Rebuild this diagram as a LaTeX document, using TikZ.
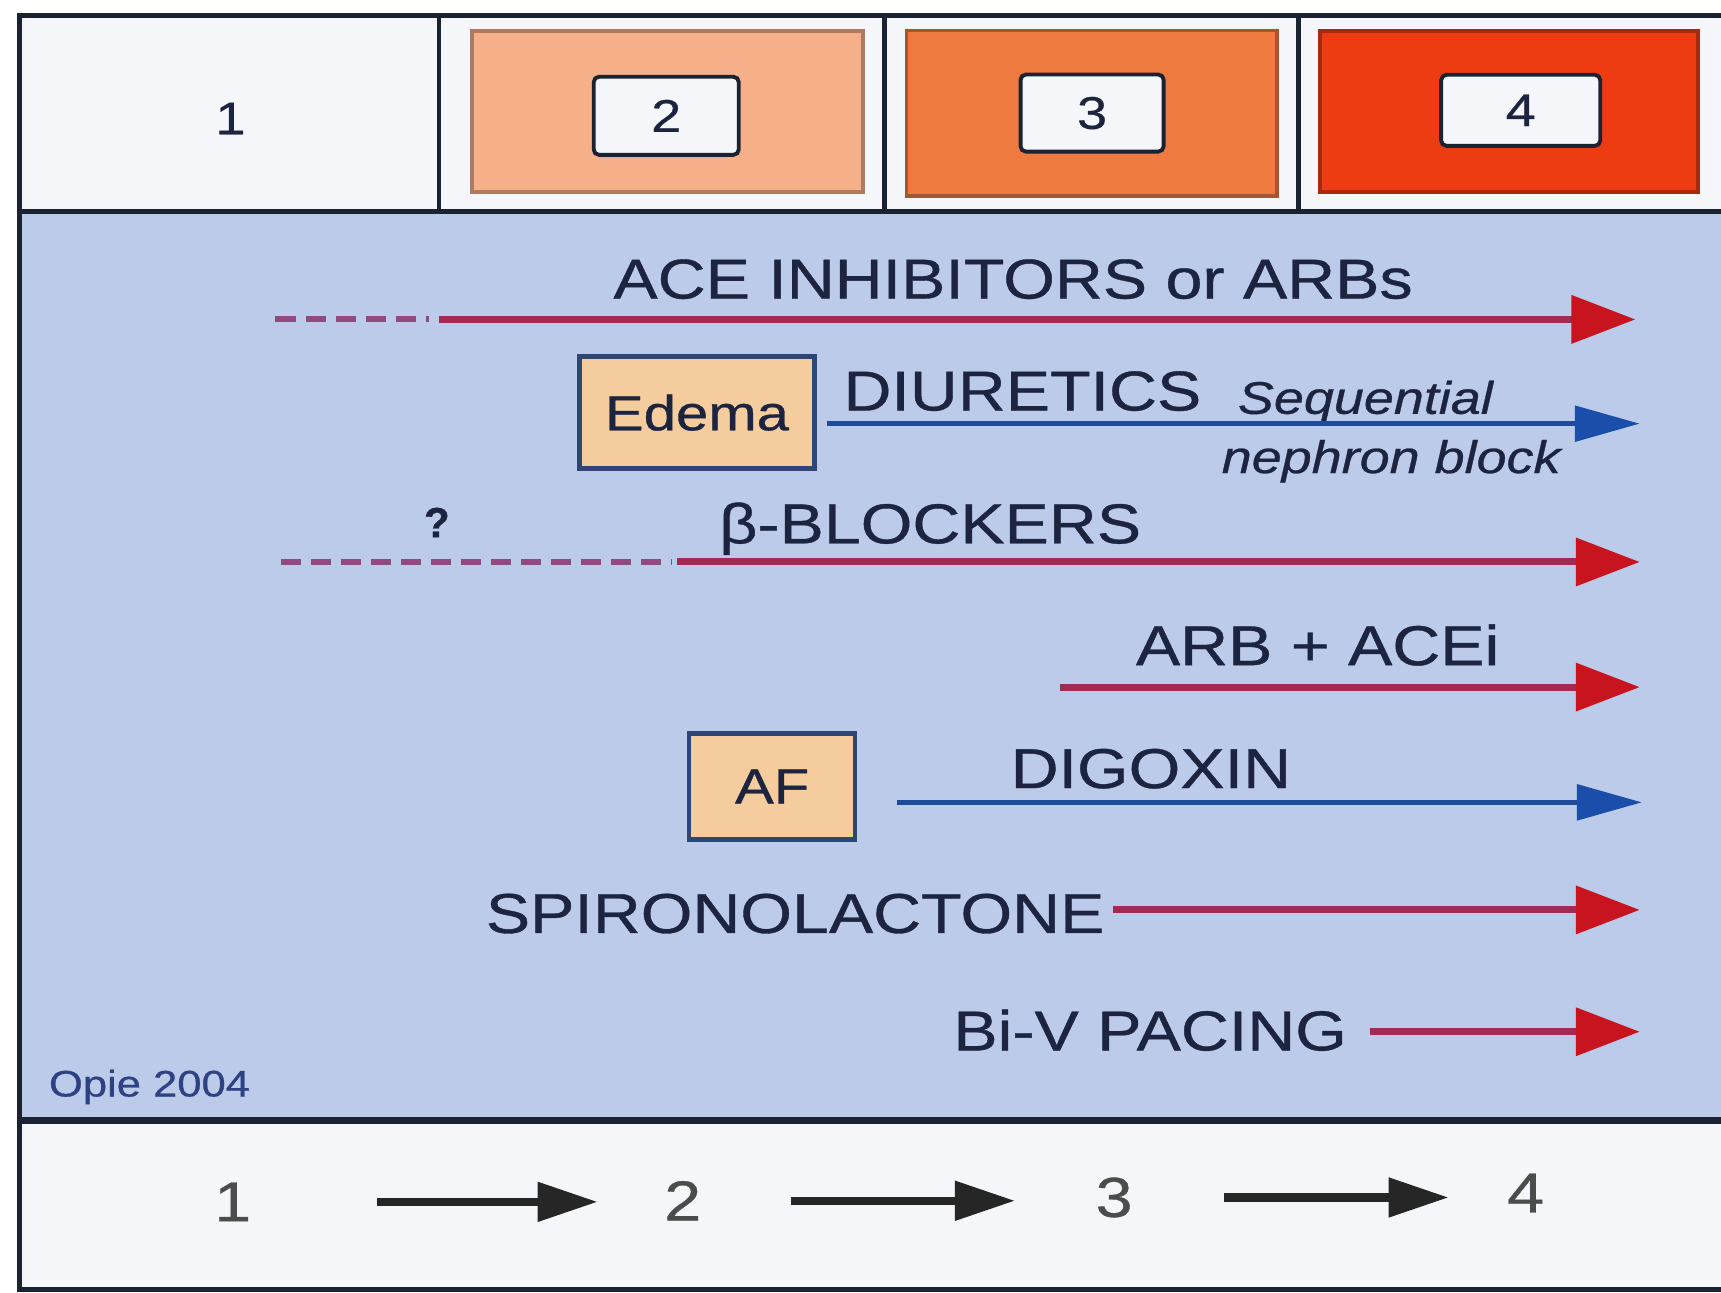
\documentclass[tikz,border=0pt]{standalone}
\usepackage{fontspec}
\setmainfont{Liberation Sans}[FakeBold=0.6]
\usetikzlibrary{arrows.meta, positioning}
\definecolor{panel}{HTML}{BCCBEA}
\definecolor{paper}{HTML}{F4F6FA}
\definecolor{frame}{HTML}{1B2333}
\definecolor{ink}{HTML}{1C2440}
\definecolor{opie}{HTML}{2E4283}
\definecolor{stagetwo}{HTML}{F5B08A}
\definecolor{stagethree}{HTML}{EE7A40}
\definecolor{stagefour}{HTML}{EE3C12}
\definecolor{peach}{HTML}{F4CC9E}
\definecolor{boxline}{HTML}{2E4676}
\definecolor{redline}{HTML}{A02C52}
\definecolor{redhead}{HTML}{C8141E}
\definecolor{blueline}{HTML}{1F4C98}
\definecolor{bluehead}{HTML}{1A4EAA}
\definecolor{dashline}{HTML}{8E4C7E}
\newcommand{\wide}[1]{\scalebox{1.18}[1]{#1}}

\begin{document}
\begin{tikzpicture}[
  x=0.010976cm, y=-0.010976cm,
  drug/.style={font=\fontsize{16}{19}\selectfont, text=ink, inner sep=0pt, anchor=base},
  remark/.style={font=\fontsize{13}{15}\selectfont\itshape, text=ink, inner sep=0pt, anchor=base},
  sign/.style={draw=boxline, line width=1.3pt, fill=peach, font=\fontsize{14}{16}\selectfont, text=ink},
  stage/.style={draw=#1!70!black, line width=1.1pt, fill=#1},
  num/.style={draw=frame, line width=1.1pt, fill=paper, rounded corners=1.5pt, font=\fontsize{13}{15}\selectfont, text=ink},
  digit/.style={font=\fontsize{16}{18}\selectfont, text=black!70},
  redarrow/.style={draw=redline, line width=2pt, -{Triangle[length=6.4mm, width=4.7mm, color=redhead, fill=redhead]}},
  bluearrow/.style={draw=blueline, line width=1.6pt, -{Triangle[length=6.5mm, width=3.5mm, color=bluehead, fill=bluehead]}},
  lead/.style={draw=dashline, line width=1.7pt, dash pattern=on 2mm off 1mm},
  steparrow/.style={draw=black!85, line width=2.3pt, -{Triangle[length=6mm, width=3.8mm]}},
  frameline/.style={draw=frame, line width=1.4pt}
]
  \useasboundingbox (0,0) rectangle (1568,1178);
  \fill[white] (0,0) rectangle (1568,1178);
  \fill[paper] (18,14) rectangle (1568,193);
  \fill[panel] (18,193) rectangle (1568,1021);
  \fill[paper] (18,1021) rectangle (1568,1175);
  \draw[frameline] (1568,14) -- (18,14) -- (18,1175) -- (1568,1175);
  \draw[frameline] (18,193) -- (1568,193);
  \draw[frameline, line width=2pt] (18,1021) -- (1568,1021);
  \foreach \x in {400,806,1183}
    \draw[frameline] (\x,14) -- (\x,193);

  \node[num, draw=none, fill=none] (n1) at (210,108) {\wide{1}};
  \node[stage=stagetwo, minimum width=3.91cm, minimum height=1.61cm] (s2) at (608,101.5) {};
  \node[num, minimum width=1.45cm, minimum height=0.78cm] (n2) at (607,105.5) {\wide{2}};
  \node[stage=stagethree, minimum width=3.70cm, minimum height=1.65cm] (s3) at (994.5,103) {};
  \node[num, minimum width=1.43cm, minimum height=0.77cm] (n3) at (995,103) {\wide{3}};
  \node[stage=stagefour, minimum width=3.78cm, minimum height=1.61cm] (s4) at (1375,101.5) {};
  \node[num, minimum width=1.59cm, minimum height=0.71cm] (n4) at (1385.5,100.5) {\wide{4}};

  \node[drug] (ace) at (923,272) {\wide{ACE INHIBITORS or ARBs}};
  \coordinate (aceA) at (251,291);
  \coordinate (aceB) at (400,291);
  \coordinate (aceE) at (1490,291);
  \draw[lead, shorten >=1mm] (aceA) -- (aceB);
  \draw[redarrow] (aceB) -- (aceE);

  \node[sign, minimum width=2.35cm, minimum height=1.12cm] (edema) at (635,376) {\wide{Edema}};
  \node[drug] (diu) at (931.5,374) {\wide{DIURETICS}};
  \node[remark] (seq) at (1244,377) {\wide{Sequential}};
  \node[remark] (neph) at (1267.5,431) {\wide{nephron block}};
  \coordinate (diuE) at (1494,386);
  \draw[bluearrow, shorten <=1mm] (edema.east |- diuE) -- (diuE);

  \node[font=\fontsize{12}{14}\selectfont\bfseries, text=ink] (qmark) at (398,476) {?};
  \node[drug] (beta) at (847.5,495) {\wide{β-BLOCKERS}};
  \coordinate (betaA) at (256,512);
  \coordinate (betaB) at (617,512);
  \coordinate (betaE) at (1494,512);
  \draw[lead, shorten >=0.5mm] (betaA) -- (betaB);
  \draw[redarrow] (betaB) -- (betaE);

  \node[drug] (arb) at (1200.5,606) {\wide{ARB + ACEi}};
  \coordinate (arbS) at (966,626);
  \coordinate (arbE) at (1494,626);
  \draw[redarrow] (arbS) -- (arbE);

  \node[sign, minimum width=1.66cm, minimum height=1.06cm] (af) at (703.5,716.5) {\wide{AF}};
  \node[drug] (dig) at (1048.5,718) {\wide{DIGOXIN}};
  \coordinate (digE) at (1496,731);
  \draw[bluearrow, shorten <=0.4cm] (af.east |- digE) -- (digE);

  \node[drug, anchor=base west] (spiro) at (442,850) {\wide{SPIRONOLACTONE}};
  \coordinate (spiroE) at (1494,829);
  \draw[redarrow, shorten <=0.08cm] (spiro.east |- spiroE) -- (spiroE);

  \node[drug, anchor=base west] (biv) at (868,957) {\wide{Bi-V PACING}};
  \coordinate (bivE) at (1494,940);
  \draw[redarrow, shorten <=0.22cm] (biv.east |- bivE) -- (bivE);

  \node[font=\fontsize{10.5}{12}\selectfont, text=opie, inner sep=0pt, anchor=base west] (credit) at (44,999) {\wide{Opie 2004}};

  \node[digit] (b1) at (212,1095) {\wide{1}};
  \node[digit] (b2) at (622,1094) {\wide{2}};
  \node[digit] (b3) at (1015,1091) {\wide{3}};
  \node[digit] (b4) at (1390,1087) {\wide{4}};
  \draw[steparrow, shorten <=1.44cm, shorten >=0.85cm] (b1.center) -- (b1.center -| b2.center);
  \draw[steparrow, shorten <=1.08cm, shorten >=0.99cm] (b2.center) -- (b2.center -| b3.center);
  \draw[steparrow, shorten <=1.10cm, shorten >=0.77cm] (b3.center) -- (b3.center -| b4.center);
\end{tikzpicture}
\end{document}
